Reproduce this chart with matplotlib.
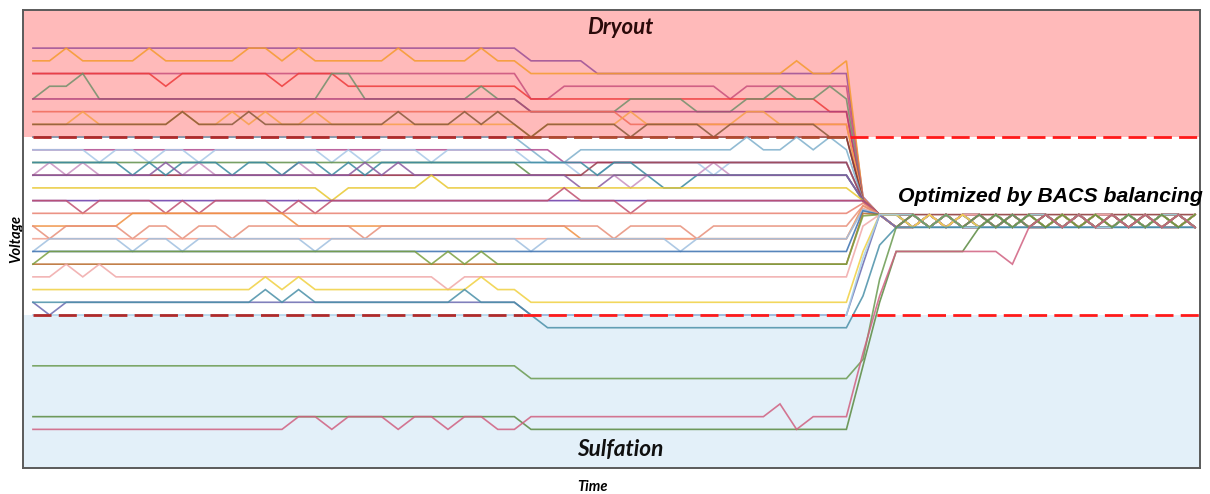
import numpy as np
import matplotlib
matplotlib.use('Agg')
import matplotlib.pyplot as plt

# time steps: 0..29 before the step, 30..49 after it, 50..51 balancing, 52..70 balanced
N_STEPS = 71

# voltage levels (arbitrary units, one grid step = one level)
DRYOUT_LIMIT = 14
SULFATION_LIMIT = 0

COLORS = [
	'#9b4f96', '#f59b2e', '#c9507c', '#ee3b3b', '#71906b', '#b0407a', '#f06a5a',
	'#f7a04a', '#8a5a3a', '#8c3434', '#7fb0cc', '#b04a8e', '#a8c8e8', '#5f8f4a',
	'#c890c0', '#9a3a4a', '#3a8aa0', '#8a5aa0', '#e8c830', '#6a3aa8', '#c05070',
	'#e88070', '#f09040', '#e8907a', '#f0a090', '#a0c0e0', '#3a70b0', '#b86a2a',
	'#7aa040', '#f0a8a8', '#f0d040', '#6a6ab0', '#4a90a8', '#a8d0e8', '#6a9a50',
	'#5a8a40', '#d06080',
]

# (level, number of steps) runs, t = 0..29
P1_RUNS = [
	[(21, 30)],
	[(20, 2), (21, 1), (20, 4), (21, 1), (20, 5), (21, 2), (20, 1), (21, 1), (20, 5), (21, 1), (20, 4), (21, 1), (20, 2)],
	[(19, 30)],
	[(19, 8), (18, 1), (19, 6), (18, 1), (19, 3), (18, 11)],
	[(17, 1), (18, 2), (19, 1), (17, 14), (19, 2), (17, 7), (18, 1), (17, 2)],
	[(17, 30)],
	[(16, 30)],
	[(15, 3), (16, 1), (15, 5), (16, 1), (15, 2), (16, 1), (15, 1), (16, 1), (15, 2), (16, 1), (15, 12)],
	[(15, 9), (16, 1), (15, 3), (16, 1), (15, 8), (16, 1), (15, 3), (16, 1), (15, 1), (16, 1), (15, 1)],
	[(14, 30)],
	[(14, 30)],
	[(13, 30)],
	[(13, 4), (12, 1), (13, 2), (12, 1), (13, 2), (12, 1), (13, 7), (12, 1), (13, 1), (12, 1), (13, 3), (12, 1), (13, 5)],
	[(12, 30)],
	[(11, 1), (12, 1), (11, 1), (12, 1), (11, 6), (12, 1), (11, 5), (12, 1), (11, 13)],
	[(11, 30)],
	[(12, 6), (11, 1), (12, 1), (11, 1), (12, 3), (11, 1), (12, 2), (11, 1), (12, 2), (11, 1), (12, 1), (11, 1), (12, 9)],
	[(11, 8), (12, 1), (11, 11), (12, 1), (11, 1), (12, 1), (11, 7)],
	[(10, 18), (9, 1), (10, 5), (11, 1), (10, 5)],
	[(9, 30)],
	[(9, 3), (8, 1), (9, 4), (8, 1), (9, 1), (8, 1), (9, 4), (8, 1), (9, 1), (8, 1), (9, 12)],
	[(8, 30)],
	[(7, 6), (8, 10), (7, 14)],
	[(7, 1), (6, 1), (7, 4), (6, 1), (7, 2), (6, 1), (7, 2), (6, 1), (7, 7), (6, 1), (7, 9)],
	[(6, 30)],
	[(5, 1), (6, 5), (5, 1), (6, 2), (5, 1), (6, 7), (5, 1), (6, 12)],
	[(5, 30)],
	[(4, 30)],
	[(4, 1), (5, 23), (4, 1), (5, 1), (4, 1), (5, 1), (4, 2)],
	[(3, 2), (4, 1), (3, 1), (4, 1), (3, 20), (2, 1), (3, 4)],
	[(2, 14), (3, 1), (2, 1), (3, 1), (2, 10), (3, 1), (2, 2)],
	[(1, 1), (0, 1), (1, 28)],
	[(1, 14), (2, 1), (1, 1), (2, 1), (1, 9), (2, 1), (1, 3)],
	[(0, 30)],
	[(-4, 30)],
	[(-8, 30)],
	[(-9, 16), (-8, 2), (-9, 1), (-8, 3), (-9, 1), (-8, 2), (-9, 1), (-8, 2), (-9, 2)],
]

# t = 30..49
P2_RUNS = [
	[(20, 4), (19, 16)],
	[(19, 16), (20, 1), (19, 2), (20, 1)],
	[(17, 2), (18, 10), (17, 1), (18, 7)],
	[(17, 18), (16, 2)],
	[(16, 6), (17, 4), (16, 3), (17, 2), (18, 1), (17, 2), (18, 1), (17, 1)],
	[(16, 20)],
	[(16, 6), (15, 14)],
	[(14, 1), (15, 5), (16, 1), (15, 6), (16, 2), (15, 5)],
	[(14, 1), (15, 5), (14, 1), (15, 4), (14, 1), (15, 6), (14, 2)],
	[(14, 20)],
	[(13, 1), (12, 2), (13, 10), (14, 1), (13, 2), (14, 1), (13, 1), (14, 1), (13, 1)],
	[(13, 2), (12, 18)],
	[(12, 3), (11, 2), (12, 6), (11, 1), (12, 8)],
	[(11, 20)],
	[(11, 6), (10, 1), (11, 4), (12, 1), (11, 8)],
	[(11, 4), (12, 16)],
	[(12, 4), (11, 1), (12, 2), (11, 1), (10, 2), (11, 10)],
	[(11, 3), (10, 2), (11, 15)],
	[(10, 20)],
	[(9, 20)],
	[(9, 2), (10, 1), (9, 3), (8, 1), (9, 13)],
	[(8, 20)],
	[(7, 3), (6, 17)],
	[(7, 5), (6, 1), (7, 4), (6, 1), (7, 9)],
	[(6, 20)],
	[(5, 1), (6, 8), (5, 1), (6, 10)],
	[(5, 20)],
	[(4, 20)],
	[(4, 20)],
	[(3, 20)],
	[(1, 20)],
	[(0, 20)],
	[(0, 1), (-1, 19)],
	[(0, 20)],
	[(-5, 20)],
	[(-9, 20)],
	[(-8, 15), (-7, 1), (-9, 1), (-8, 3)],
]

# levels at t = 50 and t = 51 (balancer pulling cells together)
CONV_50 = [9.3, 9.2, 9.1, 9.0, 9.0, 9.0, 8.9, 9.0, 9.0, 9.0, 9.0, 9.0, 9.0, 9.0, 9.0, 9.0, 9.0, 9.0, 9.0,
	9.0, 9.0, 8.8, 8.6, 8.6, 8.4, 8.3, 8.2, 8.0, 7.8, 7.0, 5.0, 4.0, 1.5, 4.5, -3.5, -4.0, -3.0]
CONV_51 = [7.9, 7.9, 7.9, 7.9, 7.9, 7.9, 7.9, 7.9, 7.9, 7.9, 7.9, 7.9, 7.9, 7.9, 7.9, 7.9, 7.9, 7.9, 7.9,
	7.9, 7.9, 7.9, 7.9, 7.9, 7.9, 7.9, 7.9, 7.9, 7.9, 7.9, 7.9, 7.9, 5.5, 7.9, 2.8, 1.0, 1.5]

# balanced part, t = 52..70
TAIL_A = [7.9, 6.9, 7.9, 6.9, 7.9, 6.9, 7.9, 6.9, 7.9, 6.9, 7.9, 6.9, 7.9, 6.9, 7.9, 6.9, 7.9, 6.9, 7.9]
TAIL_B = [6.9, 7.9, 6.9, 7.9, 6.9, 7.9, 6.9, 7.9, 6.9, 7.9, 6.9, 7.9, 6.9, 7.9, 6.9, 7.9, 6.9, 7.9, 6.9]
TAIL_C = [7.9, 7.9, 6.9, 7.9, 6.9, 6.9, 7.9, 6.9, 7.9, 7.9, 6.9, 7.9, 6.9, 6.9, 7.9, 6.9, 7.9, 7.9, 6.9]
TAIL_D = [6.9, 6.9, 7.9, 6.9, 7.9, 7.9, 6.9, 7.9, 6.9, 6.9, 7.9, 6.9, 7.9, 7.9, 6.9, 7.9, 6.9, 6.9, 7.9]
TAIL_TOP = [7.9, 7.9, 7.9, 7.9, 7.9, 7.9, 7.9, 7.9, 7.9, 7.9, 7.9, 7.9, 7.9, 7.9, 7.9, 7.9, 7.9, 7.9, 7.9]
TAIL_BOT = [6.9, 6.9, 6.9, 6.9, 6.9, 6.9, 6.9, 6.9, 6.9, 6.9, 6.9, 6.9, 6.9, 6.9, 6.9, 6.9, 6.9, 6.9, 6.9]
TAIL_GREEN = [5, 5, 5, 5, 5, 6.9, 7.9, 6.9, 7.9, 6.9, 7.9, 6.9, 7.9, 6.9, 7.9, 6.9, 7.9, 6.9, 7.9]
TAIL_PINK = [5, 5, 5, 5, 5, 5, 5, 4, 6.9, 7.9, 6.9, 7.9, 6.9, 7.9, 6.9, 7.9, 6.9, 7.9, 6.9]

TAIL_KIND = ['A', 'B', 'C', 'D', 'A', 'B', 'C', 'D', 'A', 'TOP', 'B', 'C', 'D', 'A', 'B', 'C', 'D', 'A', 'B',
	'C', 'D', 'A', 'B', 'C', 'D', 'A', 'BOT', 'B', 'C', 'D', 'A', 'B', 'BOT', 'C', 'B', 'GREEN', 'PINK']

TAILS = {'A': TAIL_A, 'B': TAIL_B, 'C': TAIL_C, 'D': TAIL_D, 'TOP': TAIL_TOP, 'BOT': TAIL_BOT,
	'GREEN': TAIL_GREEN, 'PINK': TAIL_PINK}


def expand(runs, n):
	"""run-length list -> list of n levels"""
	vals = []
	for level, count in runs:
		vals += [level] * count
	vals = vals[:n]
	while len(vals) < n:
		vals.append(vals[-1])
	return vals


def cell_series(i):
	vals = expand(P1_RUNS[i], 30) + expand(P2_RUNS[i], 20)
	vals += [CONV_50[i], CONV_51[i]]
	vals += TAILS[TAIL_KIND[i]]
	return np.array(vals[:N_STEPS], dtype=float)


fig = plt.figure(figsize=(12.1, 4.94), dpi=100)
ax = fig.add_axes([23 / 1210, 26 / 494, 1177 / 1210, 458 / 494])

x_lo, x_hi = -0.6, 70.3
y_lo, y_hi = -12.04, 24.0

# zones
ax.axhspan(DRYOUT_LIMIT, y_hi + 1, color='#ffbaba', zorder=0, lw=0)
ax.axhspan(y_lo - 1, SULFATION_LIMIT, color='#e3f0f9', zorder=0, lw=0)

t = np.arange(N_STEPS)
for i in range(len(COLORS)):
	ax.plot(t, cell_series(i), color=COLORS[i], lw=1.2, alpha=0.85, zorder=2,
		solid_joinstyle='miter')

# limit lines: darker where a cell line sits on them
dash = dict(lw=2.0, dashes=(6.5, 2.6), zorder=3)
ax.plot([0, 29.5], [DRYOUT_LIMIT, DRYOUT_LIMIT], color='#b02a2a', **dash)
ax.plot([29.5, 49.2], [DRYOUT_LIMIT, DRYOUT_LIMIT], color='#b04a30', **dash)
ax.plot([49.2, x_hi], [DRYOUT_LIMIT, DRYOUT_LIMIT], color='#ff1a1a', **dash)
ax.plot([0, 29.5], [SULFATION_LIMIT, SULFATION_LIMIT], color='#b02a2a', **dash)
ax.plot([29.5, x_hi], [SULFATION_LIMIT, SULFATION_LIMIT], color='#ff1a1a', **dash)

ax.set_xlim(x_lo, x_hi)
ax.set_ylim(y_lo, y_hi)
ax.set_xticks([])
ax.set_yticks([])
for s in ax.spines.values():
	s.set_color('#5a5a5a')
	s.set_linewidth(1.4)

lbl = dict(family=['Lato', 'DejaVu Sans'], weight='bold', style='italic')
ax.text(35.4, 22.6, 'Dryout', ha='center', va='center', fontsize=16, color='#2a0a0a', zorder=5, **lbl)
ax.text(35.4, -10.6, 'Sulfation', ha='center', va='center', fontsize=16.3, color='#101010', zorder=5, **lbl)
ax.text(61.3, 9.3, 'Optimized by BACS balancing', ha='center', va='center', fontsize=15.3,
	family=['Liberation Sans', 'DejaVu Sans'], weight='bold', style='italic', color='black', zorder=5,
	clip_on=False)

ax.set_xlabel('Time', fontsize=10.5, **lbl)
ax.set_ylabel('Voltage', fontsize=10.5, **lbl)
ax.xaxis.set_label_coords(0.484, -0.026)
ax.yaxis.set_label_coords(0.0, 0.5)

fig.savefig('out.png', dpi=100)
